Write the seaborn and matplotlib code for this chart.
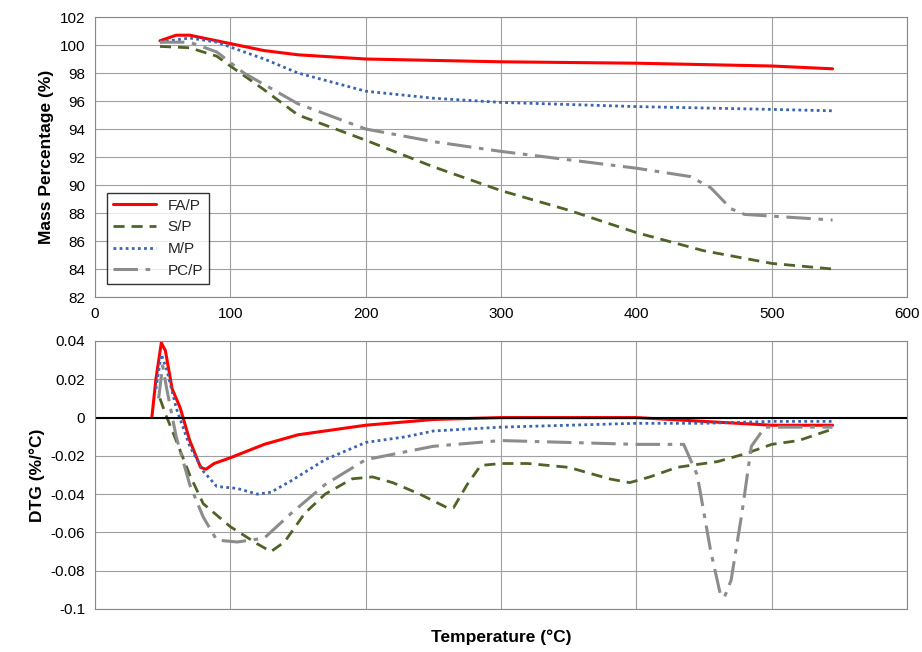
import matplotlib
matplotlib.use("Agg")
import matplotlib.pyplot as plt
import seaborn as sns
import pandas as pd

sns.set_style("white")
plt.rcParams['font.family'] = ['Liberation Sans', 'DejaVu Sans']

fa_t = [48,60,70,80,100,125,150,200,300,400,450,500,545]
fa_m = [100.3,100.7,100.7,100.5,100.1,99.6,99.3,99.0,98.8,98.7,98.6,98.5,98.3]
s_t = [48,70,90,100,125,150,200,250,300,350,400,450,500,545]
s_m = [99.9,99.8,99.2,98.5,96.8,95.0,93.2,91.3,89.6,88.2,86.6,85.3,84.4,84.0]
m_t = [48,70,90,125,150,200,250,300,400,500,545]
m_m = [100.2,100.5,100.2,99.0,98.0,96.7,96.2,95.9,95.6,95.4,95.3]
pc_t = [48,70,90,110,150,200,250,300,350,400,440,455,470,480,545]
pc_m = [100.2,100.2,99.5,98.0,95.8,94.0,93.1,92.4,91.8,91.2,90.6,89.8,88.3,87.9,87.5]

fa_dt = [42,45,49,52,57,63,70,78,82,88,100,125,150,200,250,300,400,450,500,545]
fa_d = [0,0.02,0.039,0.035,0.015,0.005,-0.012,-0.026,-0.027,-0.024,-0.021,-0.014,-0.009,-0.004,-0.001,0,0,-0.002,-0.004,-0.004]
s_dt = [48,52,60,70,80,100,120,130,140,155,170,190,205,220,240,260,265,275,285,300,320,350,380,395,410,430,460,480,500,520,545]
s_d = [0.01,0.002,-0.012,-0.03,-0.045,-0.057,-0.066,-0.07,-0.065,-0.05,-0.04,-0.032,-0.031,-0.034,-0.04,-0.047,-0.047,-0.035,-0.025,-0.024,-0.024,-0.026,-0.032,-0.034,-0.031,-0.026,-0.023,-0.019,-0.014,-0.012,-0.006]
m_dt = [45,49,53,60,70,80,90,105,120,130,145,170,200,230,250,300,350,400,450,500,545]
m_d = [0.015,0.033,0.025,0.005,-0.015,-0.028,-0.036,-0.037,-0.040,-0.039,-0.033,-0.022,-0.013,-0.01,-0.007,-0.005,-0.004,-0.003,-0.003,-0.002,-0.002]
pc_dt = [47,50,53,60,70,80,90,105,125,145,170,200,250,300,350,400,435,445,455,462,465,470,478,485,495,545]
pc_d = [0.01,0.027,0.015,-0.01,-0.035,-0.052,-0.064,-0.065,-0.063,-0.05,-0.035,-0.022,-0.015,-0.012,-0.013,-0.014,-0.014,-0.03,-0.07,-0.092,-0.094,-0.085,-0.05,-0.015,-0.005,-0.005]

styles = {"FA/P": ("#ff0000", "-", 2.2), "S/P": ("#4f6228", (0, (4, 2.5)), 2.0),
          "M/P": ("#3a64b0", (0, (1, 1.2)), 2.0), "PC/P": ("#8c8c8c", (0, (8, 2.5, 1.5, 2.5)), 2.2)}
top = [("FA/P", fa_t, fa_m), ("S/P", s_t, s_m), ("M/P", m_t, m_m), ("PC/P", pc_t, pc_m)]
bot = [("FA/P", fa_dt, fa_d), ("S/P", s_dt, s_d), ("M/P", m_dt, m_d), ("PC/P", pc_dt, pc_d)]

fig = plt.figure(figsize=(9.22, 6.52), dpi=100)
ax1 = fig.add_axes([95/922, 1-297/652, 812/922, 280/652])
ax2 = fig.add_axes([95/922, 1-609/652, 812/922, 268/652])

for name, t, v in top:
    c, ls, lw = styles[name]
    sns.lineplot(x=t, y=v, ax=ax1, color=c, linestyle=ls, linewidth=lw, label=name)
for name, t, v in bot:
    c, ls, lw = styles[name]
    sns.lineplot(x=t, y=v, ax=ax2, color=c, linestyle=ls, linewidth=lw)

for ax in (ax1, ax2):
    ax.set_xlim(0, 600)
    ax.set_xticks(range(0, 601, 100))
    ax.grid(True, color="#a0a0a0", linewidth=0.8)
    for s in ax.spines.values():
        s.set_color("#888888")
    ax.tick_params(labelsize=11, colors="black")
ax1.set_ylim(82, 102)
ax1.set_yticks(range(82, 103, 2))
ax1.set_ylabel("Mass Percentage (%)", fontsize=12.5, fontweight="bold", color="black")
leg = ax1.legend(loc="lower left", bbox_to_anchor=(0.005, 0.02), fontsize=11, frameon=True,
                 fancybox=False, edgecolor="black", handlelength=2.8)
ax2.set_ylim(-0.1, 0.04)
ax2.set_yticks([-0.1, -0.08, -0.06, -0.04, -0.02, 0, 0.02, 0.04])
ax2.set_yticklabels(["-0.1", "-0.08", "-0.06", "-0.04", "-0.02", "0", "0.02", "0.04"])
ax2.set_xticklabels([])
ax2.axhline(0, color="black", linewidth=1.5)
ax2.set_ylabel("DTG (%/°C)", fontsize=12.5, fontweight="bold", color="black")
ax2.set_xlabel("Temperature (°C)", fontsize=12.5, fontweight="bold", labelpad=8, color="black")
fig.savefig("out.png", dpi=100)
